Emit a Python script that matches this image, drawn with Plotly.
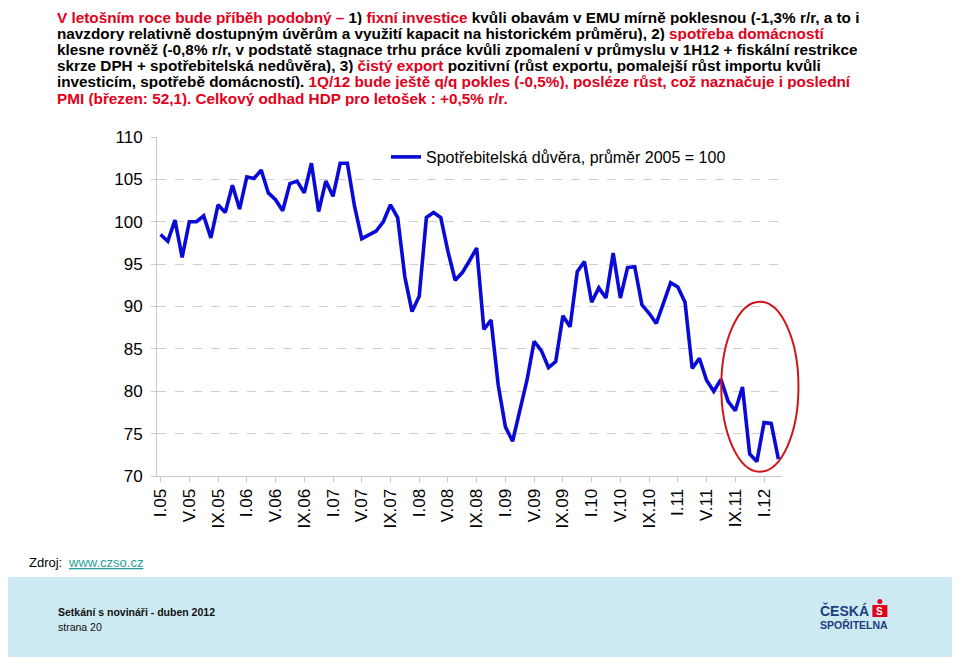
import plotly.graph_objects as go

# ---------------- data ----------------
roman = ["I", "II", "III", "IV", "V", "VI", "VII", "VIII", "IX", "X", "XI", "XII"]
years = ["05", "06", "07", "08", "09", "10", "11", "12"]
months = [f"{r}.{y}" for y in years for r in roman][:87]   # I.05 ... III.12

confidence = [
    98.5, 97.7, 100.2, 95.8, 100.0, 100.0, 100.7, 98.1, 102.0, 101.1, 104.3, 101.5,
    105.3, 105.1, 106.1, 103.4, 102.6, 101.3, 104.5, 104.8, 103.4, 106.9, 101.2, 104.8,
    103.0, 106.9, 106.9, 101.8, 98.0, 98.4, 98.9, 100.0, 102.0, 100.5, 93.5, 89.4,
    91.2, 100.5, 101.1, 100.5, 96.5, 93.1, 94.0, 95.4, 96.9, 87.3, 88.4, 80.7,
    75.8, 74.1, 77.8, 81.3, 85.9, 84.8, 82.8, 83.5, 88.9, 87.6, 94.1, 95.3,
    90.5, 92.2, 91.0, 96.3, 91.0, 94.6, 94.7, 90.2, 89.2, 88.0, 90.4, 92.8,
    92.3, 90.5, 82.7, 83.9, 81.3, 80.0, 81.4, 78.8, 77.7, 80.5, 72.6, 71.7,
    76.3, 76.2, 72.0,
]
tick_labels = months[::4]
y_ticks = [70, 75, 80, 85, 90, 95, 100, 105, 110]
series_name = "Spotřebitelská důvěra, průměr 2005 = 100"

RED = "#e2001a"
BLACK = "#000000"

# ---------------- layout geometry (screen pixels; page body has 8px margin) ----------------
OFF = 8
W, H = 960 - OFF, 659 - OFF
L, R_EDGE, T, B_EDGE = 156.7, 782.5, 137.0, 476.0   # plot area in screen px


def px(xs):
    return (xs - L) / (R_EDGE - L)


def py(ys):
    return (B_EDGE - ys) / (B_EDGE - T)


fig = go.Figure()
fig.add_trace(go.Scatter(
    x=months, y=confidence, mode="lines", name=series_name,
    line=dict(color="#0a0ad8", width=3.6),
))

FONT = "Arial, Liberation Sans, sans-serif"

fig.update_layout(
    width=W, height=H, autosize=False,
    paper_bgcolor="white", plot_bgcolor="white",
    margin=dict(l=L - OFF, r=W - (R_EDGE - OFF), t=T - OFF, b=H - (B_EDGE - OFF), pad=0),
    font=dict(family=FONT, color="black"),
    showlegend=True,
    legend=dict(x=px(386), y=py(140), xanchor="left", yanchor="top",
                font=dict(size=16, family=FONT, color="black"),
                bgcolor="rgba(0,0,0,0)", itemwidth=30),
)

fig.update_xaxes(
    type="category", range=[-0.5, len(months) - 0.5],
    tickmode="array", tickvals=tick_labels, ticktext=tick_labels,
    tickangle=-90, tickfont=dict(size=17, family=FONT, color="black"),
    showline=True, linecolor="#c8c8c8", linewidth=1,
    ticks="outside", ticklen=5, tickcolor="#c8c8c8",
    showgrid=False, zeroline=False,
)
fig.update_yaxes(
    range=[70, 110], tickmode="array", tickvals=y_ticks,
    tickfont=dict(size=17, family=FONT, color="black"),
    ticklabelstandoff=5,
    showline=True, linecolor="#c8c8c8", linewidth=1,
    ticks="outside", ticklen=5, tickcolor="#c8c8c8",
    showgrid=True, gridcolor="#cfcfcf", griddash="dash", gridwidth=1,
    zeroline=False,
)

shapes = []
# red ellipse highlighting the latest months
shapes.append(dict(type="circle", xref="paper", yref="paper",
                   x0=px(721.7), x1=px(799), y0=py(471.7), y1=py(301.7),
                   line=dict(color="#d0141a", width=2)))
# footer band
shapes.append(dict(type="rect", xref="paper", yref="paper", layer="below",
                   x0=px(0), x1=px(955), y0=py(657), y1=py(577),
                   fillcolor="#cdeaf2", line=dict(width=0)))
# logo red symbol
shapes.append(dict(type="rect", xref="paper", yref="paper",
                   x0=px(873), x1=px(888), y0=py(617), y1=py(605),
                   fillcolor=RED, line=dict(width=0)))
shapes.append(dict(type="circle", xref="paper", yref="paper",
                   x0=px(878), x1=px(883), y0=py(604), y1=py(599),
                   fillcolor=RED, line=dict(width=0)))
fig.update_layout(shapes=shapes)


def seg(text, color):
    return f"<span style='color:{color}'>{text}</span>"


lines = [
    seg("V letošním roce bude příběh podobný – ", RED) + seg("1) ", BLACK)
    + seg("fixní investice", RED)
    + seg(" kvůli obavám v EMU mírně poklesnou (-1,3% r/r, a to i", BLACK),
    seg("navzdory relativně dostupným úvěrům a využití kapacit na historickém průměru), 2) ", BLACK)
    + seg("spotřeba domácností", RED),
    seg("klesne rovněž (-0,8% r/r, v podstatě stagnace trhu práce kvůli zpomalení v průmyslu v 1H12 + fiskální restrikce", BLACK),
    seg("skrze DPH + spotřebitelská nedůvěra), 3) ", BLACK) + seg("čistý export", RED)
    + seg(" pozitivní (růst exportu, pomalejší růst importu kvůli", BLACK),
    seg("investicím, spotřebě domácností). ", BLACK)
    + seg("1Q/12 bude ještě q/q pokles (-0,5%), posléze růst, což naznačuje i poslední", RED),
    seg("PMI (březen: 52,1). Celkový odhad HDP pro letošek : +0,5% r/r.", RED),
]
line_y = [16.6, 32.8, 49.0, 65.2, 81.4, 97.6]

annotations = []
for txt, yc in zip(lines, line_y):
    annotations.append(dict(
        text=f"<b>{txt}</b>", xref="paper", yref="paper",
        x=px(55.5), y=py(yc), xanchor="left", yanchor="middle",
        showarrow=False, font=dict(size=15.3, family=FONT), align="left",
        height=16, borderpad=0,
    ))

annotations += [
    dict(text="Zdroj:", xref="paper", yref="paper", x=px(27), y=py(562),
         xanchor="left", yanchor="middle", showarrow=False,
         font=dict(size=13, family=FONT, color="black")),
    dict(text="<u>www.czso.cz</u>", xref="paper", yref="paper", x=px(66), y=py(562),
         xanchor="left", yanchor="middle", showarrow=False,
         font=dict(size=13, family=FONT, color="#2a9f9a")),
    dict(text="<b>Setkání s novináři - duben 2012</b>", xref="paper", yref="paper",
         x=px(56), y=py(612), xanchor="left", yanchor="middle", showarrow=False,
         font=dict(size=10.5, family=FONT, color="#111111")),
    dict(text="strana 20", xref="paper", yref="paper",
         x=px(56), y=py(627), xanchor="left", yanchor="middle", showarrow=False,
         font=dict(size=10.5, family=FONT, color="#111111")),
    dict(text="<b>ČESKÁ</b>", xref="paper", yref="paper",
         x=px(819), y=py(610), xanchor="left", yanchor="middle", showarrow=False,
         font=dict(size=14, family=FONT, color="#1b3d7d")),
    dict(text="<b>S</b>", xref="paper", yref="paper",
         x=px(880.5), y=py(611), xanchor="center", yanchor="middle", showarrow=False,
         font=dict(size=10, family=FONT, color="white")),
    dict(text="<b>SPOŘITELNA</b>", xref="paper", yref="paper",
         x=px(819), y=py(625), xanchor="left", yanchor="middle", showarrow=False,
         font=dict(size=10.5, family=FONT, color="#1b3d7d")),
]
fig.update_layout(annotations=annotations)

fig.write_html("out.html")
